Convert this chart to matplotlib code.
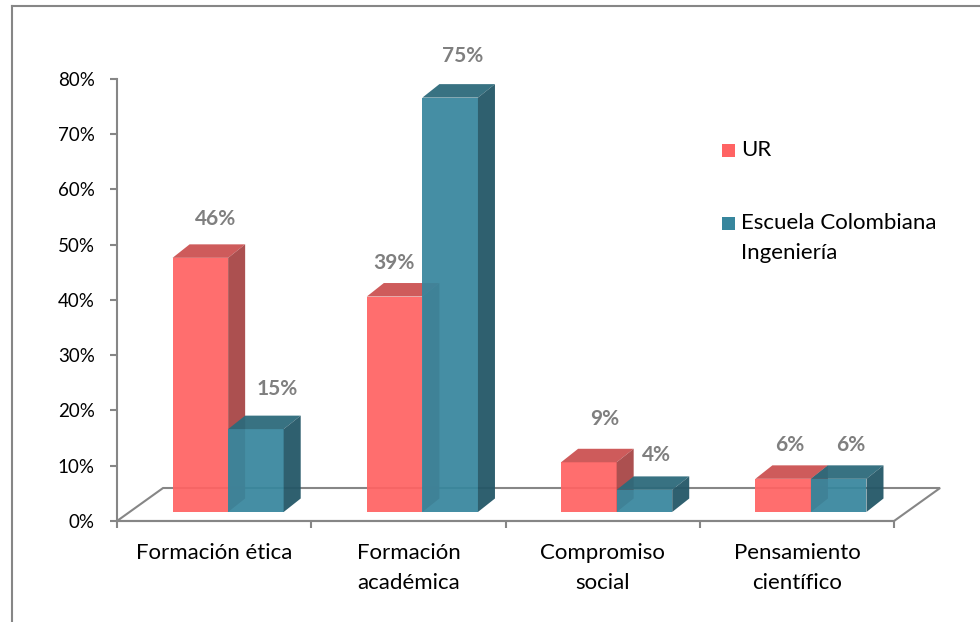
import matplotlib.pyplot as plt
from matplotlib.patches import Rectangle, Polygon
from matplotlib.ticker import FixedLocator, PercentFormatter

plt.rcParams['font.family'] = ['Lato', 'DejaVu Sans']

categories = ["Formación ética", "Formación\nacadémica", "Compromiso\nsocial", "Pensamiento\ncientífico"]
series_names = ["UR", "Escuela Colombiana\nIngeniería"]
ur = [0.46, 0.39, 0.09, 0.06]
eci = [0.15, 0.75, 0.04, 0.06]

front_cols = ["#FF6363", "#37869D"]
top_cols = ["#CC5252", "#2D6A7B"]
side_cols = ["#A84646", "#245767"]
axis_grey = "#868686"

# where excel put the value labels, in pixels from the front top centre
lab_dx = [[15.5, -1, 15.5, 7], [21, 12, 12, 12.5]]
lab_dy = [[39, 33.5, 43.5, 33.5], [40.5, 41.5, 34.5, 33.5]]

# pseudo 3d geometry (data units)
floor_dx, floor_dy = 0.237, 0.0597
shift_x, shift_y = 0.072, 0.0163
bar_w = 0.286
depth_x, depth_y = 0.0876, 0.0244

fig = plt.figure(figsize=(9.8, 6.22), dpi=100)
ax = fig.add_axes([0.1194, 0.1624, 0.7929, 0.7106])
ax.set_xlim(0, 4)
ax.set_ylim(0, 0.8)

# floor
floor = Polygon([(0, 0), (4, 0), (4 + floor_dx, floor_dy), (floor_dx, floor_dy)],
                closed=True, facecolor="white", edgecolor=axis_grey, lw=1.5,
                clip_on=False, zorder=1)
ax.add_patch(floor)

for s, vals in enumerate([ur, eci]):
    for i, v in enumerate(vals):
        x0 = i + 0.5 - bar_w + shift_x + s * bar_w
        x1 = x0 + bar_w
        y0 = shift_y
        y1 = shift_y + v
        ax.bar(x0, v, width=bar_w, bottom=y0, align="edge", color=front_cols[s],
               alpha=0.93, lw=0, zorder=3 + 3 * s, clip_on=False)
        ax.add_patch(Polygon([(x0, y1), (x1, y1), (x1 + depth_x, y1 + depth_y), (x0 + depth_x, y1 + depth_y)],
                             closed=True, facecolor=top_cols[s], lw=0, alpha=0.95,
                             zorder=4 + 3 * s, clip_on=False))
        ax.add_patch(Polygon([(x1, y0), (x1 + depth_x, y0 + depth_y), (x1 + depth_x, y1 + depth_y), (x1, y1)],
                             closed=True, facecolor=side_cols[s], lw=0, alpha=0.95,
                             zorder=4 + 3 * s, clip_on=False))
        ax.annotate("{:.0%}".format(v), xy=((x0 + x1) / 2, y1),
                    xytext=(lab_dx[s][i] * 0.72, lab_dy[s][i] * 0.72),
                    textcoords="offset points", ha="center", va="center",
                    fontsize=15, fontweight="bold", color="#7F7F7F", zorder=10,
                    annotation_clip=False)

# axes styling
for sp in ["top", "right"]:
    ax.spines[sp].set_visible(False)
for sp in ["left", "bottom"]:
    ax.spines[sp].set_color(axis_grey)
    ax.spines[sp].set_linewidth(1.5)
ax.patch.set_visible(False)

ax.yaxis.set_major_locator(FixedLocator([k / 10 for k in range(9)]))
ax.yaxis.set_major_formatter(PercentFormatter(1.0, decimals=0))
ax.tick_params(axis="y", length=5, width=1.5, color=axis_grey, pad=11, labelsize=13.5)

ax.xaxis.set_major_locator(FixedLocator([0, 1, 2, 3, 4]))
ax.set_xticklabels([])
ax.set_xticks([i + 0.5 for i in range(4)], minor=True)
ax.set_xticklabels(categories, minor=True, linespacing=1.62)
ax.tick_params(axis="x", which="major", length=5, width=1.5, color=axis_grey)
ax.tick_params(axis="x", which="minor", length=0, pad=16, labelsize=16)

# legend
for s, name in enumerate(series_names):
    ly = [150, 223][s]
    fig.patches.append(Rectangle(((722) / 980, 1 - (ly + 7) / 622), 13 / 980, 13 / 622,
                                 transform=fig.transFigure, facecolor=front_cols[s], lw=0))
    fig.text(741 / 980, 1 - (ly - 10) / 622, name, fontsize=16, va="top", ha="left",
             linespacing=1.6)

# chart frame
fig.add_artist(plt.Line2D([12 / 980, 12 / 980], [0, 1 - 6 / 622], transform=fig.transFigure,
                          color=axis_grey, lw=1.5))
fig.add_artist(plt.Line2D([12 / 980, 1], [1 - 6 / 622, 1 - 6 / 622], transform=fig.transFigure,
                          color=axis_grey, lw=1.5))

fig.savefig("out.png", dpi=100)
